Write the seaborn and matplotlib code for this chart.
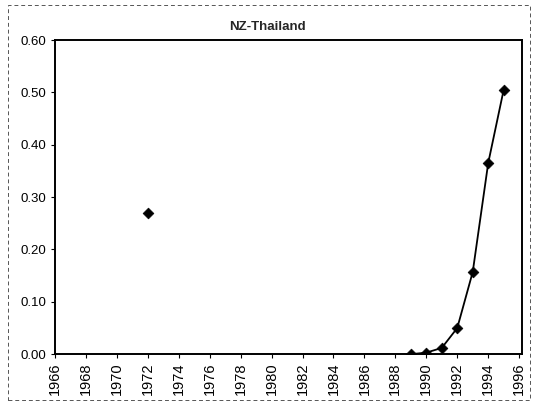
import matplotlib
matplotlib.use("Agg")
import matplotlib.pyplot as plt
import numpy as np
import pandas as pd
import seaborn as sns
from matplotlib.patches import Rectangle

sns.set_style("white")
plt.rcParams['font.family'] = ['Liberation Sans', 'DejaVu Sans']

# values (share, %)
years = [1972, 1989, 1990, 1991, 1992, 1993, 1994, 1995]
share = [0.27, 0.0, 0.003, 0.012, 0.05, 0.157, 0.365, 0.505]
title = "NZ-Thailand"
x_ticks = list(range(1966, 1997, 2))
y_ticks = [0.0, 0.1, 0.2, 0.3, 0.4, 0.5, 0.6]

df = pd.DataFrame({'year': years, 'share': share})
run = df[df['year'] >= 1989]  # continuous run of years gets a joined line

fig = plt.figure(figsize=(5.44, 4.09), dpi=100)
ax = fig.add_axes([0.101, 0.134, 0.859, 0.768])

sns.lineplot(data=run, x='year', y='share', color='black', linewidth=1.3, ax=ax)
sns.scatterplot(data=df, x='year', y='share', marker='D', s=30, color='black',
                edgecolor='black', linewidth=0.5, ax=ax, zorder=3)

ax.set_xlim(1966, 1996.2)
ax.set_ylim(0, 0.6)
ax.set_xticks(x_ticks)
ax.set_xticklabels([str(t) for t in x_ticks], rotation=90, fontsize=10.5)
ax.set_yticks(y_ticks)
ax.set_yticklabels([f"{v:.2f}" for v in y_ticks], fontsize=9.5)
ax.set_xlabel('')
ax.set_ylabel('')
ax.tick_params(axis='both', which='both', direction='out', length=3, width=0.8,
               colors='black', left=True, bottom=True, pad=3)
for s in ax.spines.values():
    s.set_color('black')
    s.set_linewidth(1.4)
    s.set_visible(True)

fig.text(267 / 544, 1 - 27 / 409, title, ha='center', va='center',
         fontsize=9.5, fontweight='bold')

# scanned page border
fig.patches.append(Rectangle((0.015, 0.022), 0.96, 0.965, transform=fig.transFigure,
                             fill=False, edgecolor='#555555', linewidth=0.7,
                             linestyle=(0, (4, 3))))

fig.savefig('out.png', dpi=100)
